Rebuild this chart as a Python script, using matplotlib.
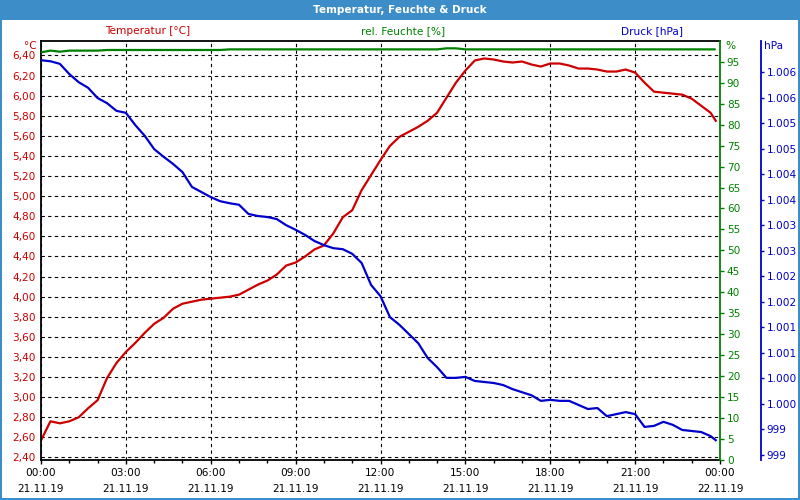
import matplotlib
matplotlib.use("Agg")
import matplotlib.pyplot as plt
from matplotlib.patches import Rectangle
from matplotlib.ticker import FixedLocator, MultipleLocator

# ---------------- data ----------------
time_h = [i / 3 for i in range(72)] + [23.85]

temperature = [2.57, 2.76, 2.74, 2.76, 2.80, 2.89, 2.97, 3.19, 3.34, 3.45,
               3.54, 3.64, 3.73, 3.79, 3.88, 3.93, 3.95, 3.97, 3.98, 3.99,
               4.00, 4.02, 4.07, 4.12, 4.16, 4.22, 4.31, 4.34, 4.40, 4.47,
               4.51, 4.63, 4.79, 4.86, 5.06, 5.21, 5.36, 5.50, 5.59, 5.64,
               5.69, 5.75, 5.83, 5.98, 6.13, 6.25, 6.35, 6.37, 6.36, 6.34,
               6.33, 6.34, 6.31, 6.29, 6.32, 6.32, 6.30, 6.27, 6.27, 6.26,
               6.24, 6.24, 6.26, 6.23, 6.13, 6.04, 6.03, 6.02, 6.01, 5.97,
               5.90, 5.83, 5.75]

pressure = [1006.73, 1006.71, 1006.66, 1006.46, 1006.30, 1006.19, 1005.99, 1005.89, 1005.74, 1005.70,
            1005.46, 1005.25, 1004.99, 1004.84, 1004.70, 1004.54, 1004.25, 1004.15, 1004.05, 1003.97,
            1003.93, 1003.90, 1003.72, 1003.68, 1003.66, 1003.62, 1003.50, 1003.41, 1003.31, 1003.19,
            1003.11, 1003.05, 1003.03, 1002.94, 1002.76, 1002.33, 1002.11, 1001.70, 1001.55, 1001.37,
            1001.19, 1000.90, 1000.72, 1000.51, 1000.51, 1000.53, 1000.45, 1000.43, 1000.41, 1000.37,
            1000.29, 1000.23, 1000.17, 1000.06, 1000.08, 1000.06, 1000.06, 999.98, 999.90, 999.92,
            999.76, 999.80, 999.84, 999.80, 999.55, 999.57, 999.65, 999.59, 999.49, 999.47,
            999.45, 999.37, 999.29]

humidity = ([97.3, 97.7, 97.45] + [97.7] * 4 + [97.85] * 13 + [98.0] * 23
            + [98.25] * 2 + [98.0] * 28)

temp_ticks = [2.4, 2.6, 2.8, 3.0, 3.2, 3.4, 3.6, 3.8, 4.0, 4.2, 4.4,
              4.6, 4.8, 5.0, 5.2, 5.4, 5.6, 5.8, 6.0, 6.2, 6.4]
temp_labels = ["2,40", "2,60", "2,80", "3,00", "3,20", "3,40", "3,60", "3,80",
               "4,00", "4,20", "4,40", "4,60", "4,80", "5,00", "5,20", "5,40",
               "5,60", "5,80", "6,00", "6,20", "6,40"]

hum_ticks = [0, 5, 10, 15, 20, 25, 30, 35, 40, 45, 50, 55, 60, 65, 70, 75, 80, 85, 90, 95]

press_ticks = [999.0, 999.5, 1000.0, 1000.5, 1001.0, 1001.5, 1002.0, 1002.5,
               1003.0, 1003.5, 1004.0, 1004.5, 1005.0, 1005.5, 1006.0, 1006.5]
press_labels = ["999", "999", "1.000", "1.000", "1.001", "1.001", "1.002", "1.002",
                "1.003", "1.003", "1.004", "1.004", "1.005", "1.005", "1.006", "1.006"]

time_ticks = [0, 3, 6, 9, 12, 15, 18, 21, 24]
time_labels = ["00:00\n21.11.19", "03:00\n21.11.19", "06:00\n21.11.19",
               "09:00\n21.11.19", "12:00\n21.11.19", "15:00\n21.11.19",
               "18:00\n21.11.19", "21:00\n21.11.19", "00:00\n22.11.19"]

# ---------------- style ----------------
RED = "#cc0000"
GREEN = "#008000"
BLUE = "#0000cc"
FRAME = "#3c8dc8"
FS = 7.6
plt.rcParams["font.family"] = ["DejaVu Sans"]

W, H = 800, 500
PX = 72 / 100  # points per pixel
fig = plt.figure(figsize=(W / 100, H / 100), dpi=100)
fig.patch.set_facecolor("white")

# window frame
fig.patches.append(Rectangle((0, 1 - 20 / H), 1, 20 / H, transform=fig.transFigure,
                             facecolor=FRAME, edgecolor="none", zorder=0))
fig.patches.append(Rectangle((0, 0), 2 / W, 1, transform=fig.transFigure,
                             facecolor=FRAME, edgecolor="none", zorder=0))
fig.patches.append(Rectangle((1 - 2 / W, 0), 2 / W, 1, transform=fig.transFigure,
                             facecolor=FRAME, edgecolor="none", zorder=0))
fig.patches.append(Rectangle((0, 0), 1, 2 / H, transform=fig.transFigure,
                             facecolor=FRAME, edgecolor="none", zorder=0))
fig.text(0.5, 1 - 10 / H, "Temperatur, Feuchte & Druck", color="white",
         fontsize=FS, fontweight="bold", ha="center", va="center")

x0, x1, y0, y1 = 41, 720, 41, 460
ax = fig.add_axes([x0 / W, 1 - y1 / H, (x1 - x0) / W, (y1 - y0) / H])
ax2 = ax.twinx()
ax3 = ax.twinx()

# temperature axis
ax.set_xlim(0, 24)
ax.set_ylim(2.375, 6.544)
ax.yaxis.set_major_locator(FixedLocator(temp_ticks))
ax.set_yticklabels(temp_labels)
ax.tick_params(axis="y", length=0, pad=4, labelcolor=RED, labelsize=FS)
ax.set_xticks(time_ticks)
ax.set_xticklabels(time_labels, linespacing=1.75)
ax.xaxis.set_minor_locator(MultipleLocator(1))
ax.tick_params(axis="x", which="major", length=4 * PX, width=1, direction="out",
               pad=3, labelsize=FS, color="black")
ax.tick_params(axis="x", which="minor", length=3 * PX, width=1, direction="out")
ax.grid(True, which="major", color="black", linestyle=(0, (3, 3)), linewidth=0.8)
for s in ["left", "top", "bottom"]:
    ax.spines[s].set_color("black")
    ax.spines[s].set_linewidth(1.3)
ax.spines["right"].set_visible(False)

# humidity axis
ax2.set_ylim(-0.1, 100.0)
ax2.yaxis.set_major_locator(FixedLocator(hum_ticks))
ax2.tick_params(axis="y", length=4 * PX, width=1, color=GREEN, labelcolor=GREEN,
                labelsize=FS, pad=2)
ax2.spines["right"].set_color(GREEN)
ax2.spines["right"].set_linewidth(1.3)
for s in ["left", "top", "bottom"]:
    ax2.spines[s].set_visible(False)

# pressure axis
ax3.set_ylim(998.902, 1007.107)
ax3.yaxis.set_major_locator(FixedLocator(press_ticks))
ax3.set_yticklabels(press_labels)
ax3.spines["right"].set_position(("outward", 41 * PX))
ax3.spines["right"].set_color(BLUE)
ax3.spines["right"].set_linewidth(1.3)
for s in ["left", "top", "bottom"]:
    ax3.spines[s].set_visible(False)
ax3.tick_params(axis="y", length=3 * PX, width=1, color=BLUE, labelcolor=BLUE,
                labelsize=FS, pad=2)

# series
ax2.plot(time_h, humidity, color=GREEN, linewidth=1.6, solid_capstyle="butt")
ax.plot(time_h, temperature, color=RED, linewidth=1.6)
ax3.plot(time_h, pressure, color=BLUE, linewidth=1.6)

# header labels
fig.text(148 / W, 1 - 31 / H, "Temperatur [°C]", color=RED, fontsize=FS,
         ha="center", va="center")
fig.text(403 / W, 1 - 31 / H, "rel. Feuchte [%]", color=GREEN, fontsize=FS,
         ha="center", va="center")
fig.text(652 / W, 1 - 31 / H, "Druck [hPa]", color=BLUE, fontsize=FS,
         ha="center", va="center")
fig.text(37 / W, 1 - 46 / H, "°C", color=RED, fontsize=FS, ha="right", va="center")
fig.text(725 / W, 1 - 46 / H, "%", color=GREEN, fontsize=FS, ha="left", va="center")
fig.text(764 / W, 1 - 46 / H, "hPa", color=BLUE, fontsize=FS, ha="left", va="center")

fig.savefig("out.png", dpi=100)
